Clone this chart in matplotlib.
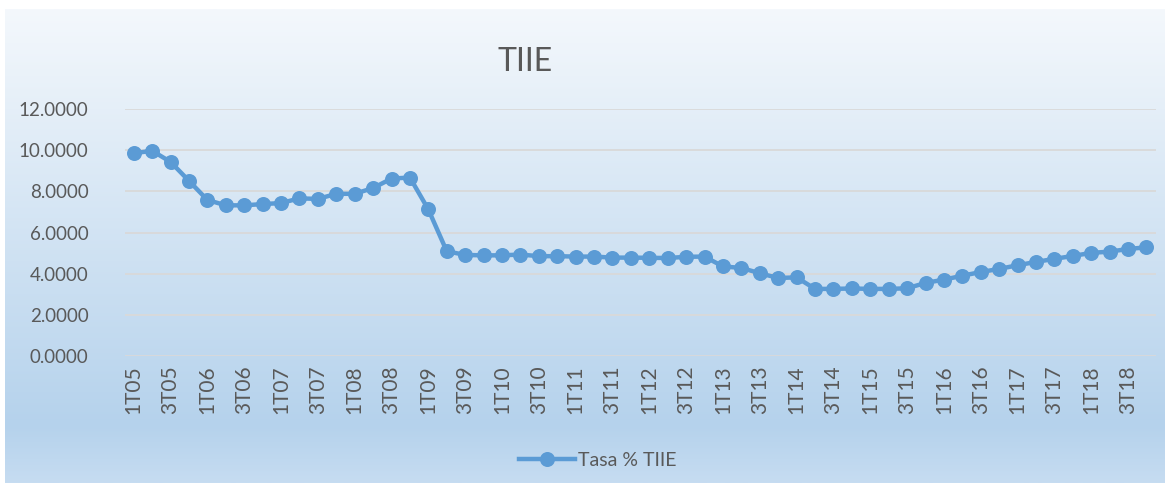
import numpy as np
import matplotlib
matplotlib.use("Agg")
import matplotlib.pyplot as plt
from matplotlib.colors import LinearSegmentedColormap

plt.rcParams['font.family'] = ['Lato', 'DejaVu Sans']

quarters = [
    "1T05", "2T05", "3T05", "4T05", "1T06", "2T06", "3T06", "4T06",
    "1T07", "2T07", "3T07", "4T07", "1T08", "2T08", "3T08", "4T08",
    "1T09", "2T09", "3T09", "4T09", "1T10", "2T10", "3T10", "4T10",
    "1T11", "2T11", "3T11", "4T11", "1T12", "2T12", "3T12", "4T12",
    "1T13", "2T13", "3T13", "4T13", "1T14", "2T14", "3T14", "4T14",
    "1T15", "2T15", "3T15", "4T15", "1T16", "2T16", "3T16", "4T16",
    "1T17", "2T17", "3T17", "4T17", "1T18", "2T18", "3T18", "4T18",
]
tiie = [
    9.85, 9.97, 9.43, 8.51, 7.58, 7.32, 7.32, 7.38,
    7.43, 7.66, 7.63, 7.88, 7.88, 8.16, 8.62, 8.67,
    7.12, 5.09, 4.91, 4.89, 4.89, 4.93, 4.85, 4.85,
    4.83, 4.83, 4.78, 4.78, 4.77, 4.76, 4.82, 4.83,
    4.35, 4.28, 4.02, 3.79, 3.82, 3.26, 3.26, 3.28,
    3.26, 3.26, 3.29, 3.55, 3.71, 3.90, 4.08, 4.23,
    4.41, 4.57, 4.72, 4.86, 5.01, 5.07, 5.20, 5.28,
]
title = "TIIE"
series_name = "Tasa % TIIE"
yticks = [0, 2, 4, 6, 8, 10, 12]

W, H = 1172, 488
fig = plt.figure(figsize=(W / 100, H / 100), dpi=100)
fig.patch.set_facecolor("white")

# gradient background of chart area
cl, ct, cr, cb = 5, 9, 1165, 483
bg = fig.add_axes([cl / W, 1 - cb / H, (cr - cl) / W, (cb - ct) / H])
cmap = LinearSegmentedColormap.from_list(
    "bg",
    [(0.0, (244/255, 248/255, 252/255)),
     (0.88, (181/255, 210/255, 236/255)),
     (1.0, (198/255, 220/255, 241/255))])
grad = np.linspace(0, 1, 256).reshape(-1, 1)
bg.imshow(grad, aspect="auto", cmap=cmap, extent=[0, 1, 1, 0])
bg.set_axis_off()

# plot area
pl, pr, pt, pb = 124.5, 1155.7, 109, 356
ax = fig.add_axes([pl / W, 1 - pb / H, (pr - pl) / W, (pb - pt) / H])
ax.set_facecolor("none")
x = np.arange(len(quarters))
line, = ax.plot(x, tiie, color="#5b9bd5", lw=3.2, marker="o", ms=10.8,
                markeredgewidth=0, label=series_name, zorder=3)
ax.set_xlim(-0.5, len(quarters) - 0.5)
ax.set_ylim(0, 12)
ax.set_yticks(yticks)
ax.set_yticklabels([f"{v:.4f}" for v in yticks])
ax.yaxis.grid(True, color="#d9d9d9", lw=1.3)
ax.set_axisbelow(True)
ax.set_xticks(x[::2])
ax.set_xticklabels(quarters[::2], rotation=90)
for s in ax.spines.values():
    s.set_visible(False)
ax.tick_params(axis="y", length=0, pad=26, labelsize=13.5, labelcolor="#595959")
ax.tick_params(axis="x", length=0, pad=7, labelsize=15, labelcolor="#595959")

fig.text(525 / W, 1 - 62 / H, title, ha="center", va="center",
         fontsize=23, color="#595959")

leg = fig.legend(handles=[line], loc="center",
                 bbox_to_anchor=(598 / W, 1 - 460 / H), frameon=False,
                 fontsize=14, handlelength=2.9, handletextpad=0.15,
                 labelcolor="#595959")

fig.savefig("out.png", dpi=100, facecolor="white")
